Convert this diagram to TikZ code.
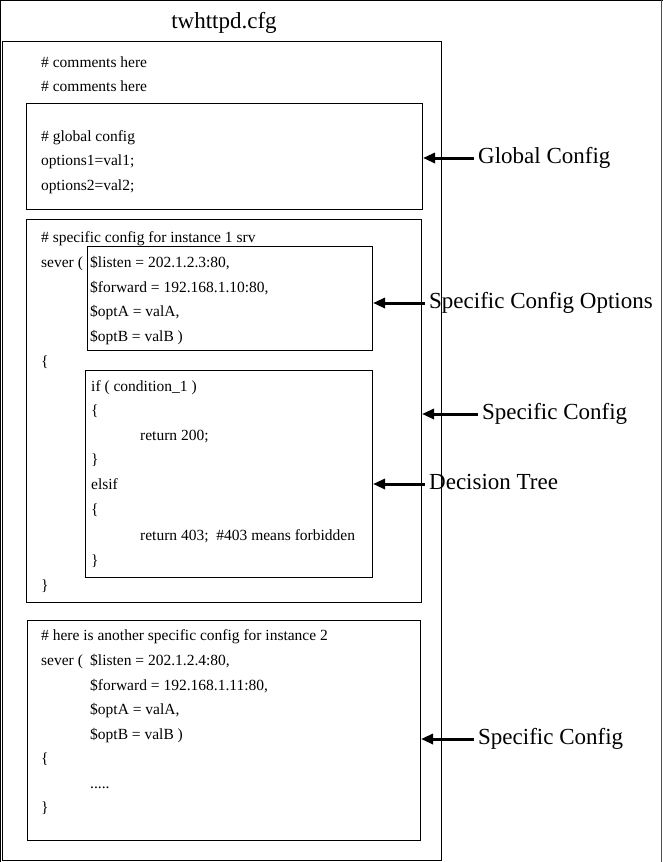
\documentclass[tikz,border=0pt]{standalone}
\usepackage{fontspec}
\setmainfont{Liberation Serif}
\usetikzlibrary{arrows.meta}
\begin{document}
\begin{tikzpicture}[x=1pt,y=-1pt,
  box/.style={draw=black,line width=1pt,anchor=north west,inner sep=0pt},
  code/.style={anchor=base west,inner sep=0pt,font=\fontsize{15.5}{17}\selectfont},
  lab/.style={anchor=west,inner xsep=4pt,inner ysep=0pt,text height=1.15em,text depth=0pt,font=\fontsize{23}{26}\selectfont},
  arr/.style={line width=3pt,-{Triangle[length=12pt,width=10pt]}}]
\useasboundingbox (0,0) rectangle (663,862);
% canvas borders
\draw[line width=1pt] (0,0.5) -- (663,0.5);
\draw[line width=1pt] (0.5,0) -- (0.5,862);
\draw[red,line width=1pt] (661.5,0) -- (661.5,862);
% title
\node[anchor=base,inner sep=0pt,font=\fontsize{23}{26}\selectfont] (title) at (224,28) {twhttpd.cfg};
% boxes
\node[box,minimum width=439pt,minimum height=819pt] (outer) at (2,41) {};
\node[box,minimum width=396pt,minimum height=106pt] (gbox) at (26,103) {};
\node[box,minimum width=395pt,minimum height=383pt] (s1box) at (26,219) {};
\node[box,minimum width=285pt,minimum height=104pt] (obox) at (87,246) {};
\node[box,minimum width=287pt,minimum height=207pt] (dbox) at (85,370) {};
\node[box,minimum width=393pt,minimum height=220pt] (s2box) at (27,620) {};
% text
\node[code] (c1) at (41,67) {\# comments here};
\node[code] (c2) at (41,91) {\# comments here};
\node[code] (c3) at (41,141) {\# global config};
\node[code] (c4) at (41,165) {options1=val1;};
\node[code] (c5) at (41,190) {options2=val2;};
\node[code] (c6) at (41,242) {\# specific config for instance 1 srv};
\node[code] (c7) at (41,267) {sever (};
\node[code] (c8) at (90,267) {\$listen = 202.1.2.3:80,};
\node[code] (c9) at (90,292) {\$forward = 192.168.1.10:80,};
\node[code] (c10) at (90,316) {\$optA = valA,};
\node[code] (c11) at (90,341) {\$optB = valB )};
\node[code] (c12) at (41,366) {\{};
\node[code] (c13) at (91,391) {if ( condition\_1 )};
\node[code] (c14) at (91,415) {\{};
\node[code] (c15) at (140,440) {return 200;};
\node[code] (c16) at (91,464) {\}};
\node[code] (c17) at (91,489) {elsif};
\node[code] (c18) at (91,514) {\{};
\node[code] (c19) at (140,540) {return 403;\ \ \#403 means forbidden};
\node[code] (c20) at (91,565) {\}};
\node[code] (c21) at (41,590) {\}};
\node[code] (c22) at (41,640) {\# here is another specific config for instance 2};
\node[code] (c23) at (41,665) {sever (};
\node[code] (c24) at (90,665) {\$listen = 202.1.2.4:80,};
\node[code] (c25) at (90,690) {\$forward = 192.168.1.11:80,};
\node[code] (c26) at (90,714) {\$optA = valA,};
\node[code] (c27) at (90,739) {\$optB = valB )};
\node[code] (c28) at (41,763) {\{};
\node[code] (c29) at (90,788) {.....};
\node[code] (c30) at (41,812) {\}};
% labels and arrows
\node[lab] (l1) at (474,158) {Global Config};
\node[lab] (l2) at (425,303) {Specific Config Options};
\node[lab] (l3) at (478,414) {Specific Config};
\node[lab] (l4) at (425,484) {Decision Tree};
\node[lab] (l5) at (474,739) {Specific Config};
\draw[arr] (l1.west) -- (gbox.east |- l1.west);
\draw[arr] (l2.west) -- (obox.east |- l2.west);
\draw[arr] (l3.west) -- (s1box.east |- l3.west);
\draw[arr] (l4.west) -- (dbox.east |- l4.west);
\draw[arr] (l5.west) -- (s2box.east |- l5.west);
\end{tikzpicture}
\end{document}
